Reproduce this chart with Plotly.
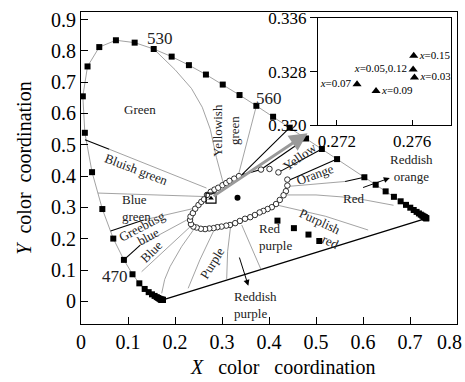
import plotly.graph_objects as go

# ---------------- data ----------------
# CIE 1931 spectral locus (5 nm steps, 590 nm absent in the figure)
locus_x = [0.1741, 0.1740, 0.1738, 0.1736, 0.1733, 0.1730, 0.1726, 0.1721, 0.1714, 0.1703,
           0.1689, 0.1669, 0.1644, 0.1611, 0.1566, 0.1510, 0.1440, 0.1355, 0.1241, 0.1096,
           0.0913, 0.0687, 0.0454, 0.0235, 0.0082, 0.0039, 0.0139, 0.0389, 0.0743, 0.1142,
           0.1547, 0.1929, 0.2296, 0.2658, 0.3016, 0.3373, 0.3731, 0.4087, 0.4441, 0.4788,
           0.5125, 0.5448, 0.6029, 0.6270, 0.6482, 0.6658, 0.6801, 0.6915, 0.7006, 0.7079,
           0.7140, 0.7190, 0.7230, 0.7260, 0.7283, 0.7300, 0.7311, 0.7320, 0.7334, 0.7344, 0.7347]
locus_y = [0.0050, 0.0050, 0.0049, 0.0049, 0.0048, 0.0048, 0.0048, 0.0048, 0.0051, 0.0058,
           0.0069, 0.0086, 0.0109, 0.0138, 0.0177, 0.0227, 0.0297, 0.0399, 0.0578, 0.0868,
           0.1327, 0.2007, 0.2950, 0.4127, 0.5384, 0.6548, 0.7502, 0.8120, 0.8338, 0.8262,
           0.8059, 0.7816, 0.7543, 0.7243, 0.6923, 0.6589, 0.6245, 0.5896, 0.5547, 0.5202,
           0.4866, 0.4544, 0.3965, 0.3725, 0.3514, 0.3340, 0.3197, 0.3083, 0.2993, 0.2920,
           0.2859, 0.2809, 0.2770, 0.2740, 0.2717, 0.2700, 0.2689, 0.2680, 0.2666, 0.2656, 0.2653]

# purple line (ends of the locus)
purple_x = [0.1741, 0.7347]
purple_y = [0.0050, 0.2653]

# hollow circles around the white region
ell_x = [0.268, 0.276, 0.284, 0.292, 0.301, 0.309, 0.316, 0.326, 0.336, 0.383, 0.401, 0.420,
         0.439, 0.439, 0.436, 0.431, 0.423, 0.415, 0.406, 0.397, 0.388, 0.380, 0.370, 0.360,
         0.349, 0.338, 0.328, 0.317, 0.309, 0.299, 0.290, 0.282, 0.273, 0.264, 0.255, 0.246,
         0.239, 0.234, 0.232, 0.233, 0.238, 0.243, 0.250, 0.256, 0.262]
ell_y = [0.340, 0.350, 0.357, 0.363, 0.371, 0.378, 0.385, 0.392, 0.400, 0.421, 0.423, 0.412,
         0.389, 0.370, 0.352, 0.339, 0.324, 0.311, 0.301, 0.295, 0.289, 0.284, 0.276, 0.269,
         0.264, 0.257, 0.250, 0.244, 0.242, 0.239, 0.237, 0.234, 0.233, 0.231, 0.232, 0.236,
         0.239, 0.247, 0.260, 0.271, 0.282, 0.296, 0.308, 0.318, 0.326]

# extra filled squares in the red-purple region
rp_x = [0.418, 0.453, 0.484, 0.507]
rp_y = [0.258, 0.234, 0.2135, 0.193]

# white point and sample point
white_x, white_y = [0.333], [0.331]
sample_x, sample_y = [0.2766], [0.3297]

# thin grey hue-boundary lines
gray_lines = [
    ([0.1547, 0.200, 0.235, 0.258, 0.275, 0.288, 0.303], [0.806, 0.740, 0.680, 0.620, 0.550, 0.460, 0.376]),
    ([0.3731, 0.335], [0.6245, 0.404]),
    ([0.060, 0.267], [0.486, 0.362]),
    ([0.036, 0.260], [0.346, 0.335]),
    ([0.133, 0.243], [0.260, 0.298]),
    ([0.126, 0.225], [0.180, 0.260]),
    ([0.129, 0.232], [0.095, 0.238]),
    ([0.1717, 0.178, 0.1894, 0.214, 0.239], [0.026, 0.070, 0.111, 0.175, 0.228]),
    ([0.228, 0.253, 0.2815], [0.042, 0.133, 0.223]),
    ([0.310, 0.312, 0.318], [0.072, 0.160, 0.236]),
    ([0.383, 0.360, 0.342], [0.102, 0.180, 0.244]),
    ([0.416, 0.520, 0.611], [0.308, 0.272, 0.228]),
    ([0.438, 0.500, 0.579, 0.665], [0.340, 0.340, 0.331, 0.307]),
    ([0.439, 0.562], [0.367, 0.383]),
]
# black boundary lines
black_lines = [
    ([0.0085, 0.060], [0.516, 0.486]),
    ([0.063, 0.133], [0.225, 0.260]),
    ([0.0913, 0.126], [0.1327, 0.180]),
    ([0.562, 0.6029], [0.383, 0.3965]),
    ([0.383, 0.342, 0.4441], [0.421, 0.404, 0.5547]),
    ([0.383, 0.4788], [0.421, 0.5202]),
    ([0.420, 0.5125], [0.412, 0.4866]),
    ([0.4377, 0.5448], [0.384, 0.4544]),
]

# arrows: (tail x, tail y, head x, head y)
gray_arrow = (0.279, 0.333, 0.482, 0.537)
orange_arrow = (0.597, 0.362, 0.657, 0.394)
rpurple_arrow = (0.336, 0.145, 0.356, 0.050)

# region labels: text, x, y, angle, size, xanchor
labels = [
    ("Green", 0.1255, 0.612, 0, 13, "center"),
    ("Yellowish<br>green", 0.3085, 0.545, -90, 13, "center"),
    ("Bluish green", 0.118, 0.420, 21, 13, "center"),
    ("Blue<br>green", 0.082, 0.299, 0, 13, "left"),
    ("Greebusg", 0.129, 0.239, -28, 13, "center"),
    ("blue", 0.143, 0.207, -28, 13, "center"),
    ("Blue", 0.150, 0.159, -45, 13, "center"),
    ("470", 0.0723, 0.079, 0, 17, "center"),
    ("530", 0.168, 0.838, 0, 17, "center"),
    ("560", 0.4007, 0.649, 0, 17, "center"),
    ("Purple", 0.278, 0.122, -58, 13, "center"),
    ("Red<br>purple", 0.3755, 0.207, 0, 13, "left"),
    ("Reddish<br>purple", 0.3206, -0.011, 0, 13, "left"),
    ("Yellow", 0.466, 0.463, -36, 13, "center"),
    ("Orange", 0.498, 0.404, -20, 13, "center"),
    ("Red", 0.579, 0.330, 0, 13, "center"),
    ("Purplish", 0.509, 0.255, 25, 13, "center"),
    ("red", 0.530, 0.191, 25, 13, "center"),
    ("Reddish<br>orange", 0.704, 0.4265, 0, 13, "center"),
]

# inset data
ins_x = [0.27608, 0.27605, 0.27612, 0.27307, 0.27408]
ins_y = [0.33036, 0.32833, 0.32713, 0.32613, 0.32509]
ins_lab = ["<i>x</i>=0.15", "<i>x</i>=0.05,0.12", "<i>x</i>=0.03", "<i>x</i>=0.07", "<i>x</i>=0.09"]
ins_pos = ["middle right", "middle left", "middle right", "middle left", "middle right"]

# main axis ticks (the last x label is drawn right-aligned at the frame edge)
x_ticks = [0, 0.1, 0.2, 0.3, 0.4, 0.5, 0.6, 0.7, 0.8]
x_tick_text = ["0", "0.1", "0.2", "0.3", "0.4", "0.5", "0.6", "0.7", ""]
x_last_label = "0.8"
y_ticks = [0, 0.1, 0.2, 0.3, 0.4, 0.5, 0.6, 0.7, 0.8, 0.9]
y_tick_text = ["0", "0.1", "0.2", "0.3", "0.4", "0.5", "0.6", "0.7", "0.8", "0.9"]
ins_xticks = [0.272, 0.276]
ins_yticks = [0.320, 0.328, 0.336]

FONT = "Liberation Serif"
NB = "\u00a0"

fig = go.Figure()

fig.add_trace(go.Scatter(x=locus_x, y=locus_y, mode="lines",
                         line=dict(color="#8a8a8a", width=0.8), hoverinfo="skip"))
fig.add_trace(go.Scatter(x=purple_x, y=purple_y, mode="lines",
                         line=dict(color="black", width=1.4), hoverinfo="skip"))
for xs, ys in gray_lines:
    fig.add_trace(go.Scatter(x=xs, y=ys, mode="lines",
                             line=dict(color="#8c8c8c", width=0.8), hoverinfo="skip"))
for xs, ys in black_lines:
    fig.add_trace(go.Scatter(x=xs, y=ys, mode="lines",
                             line=dict(color="black", width=1.1), hoverinfo="skip"))

fig.add_trace(go.Scatter(x=locus_x, y=locus_y, mode="markers",
                         marker=dict(symbol="square", size=6, color="black"), hoverinfo="skip"))
fig.add_trace(go.Scatter(x=rp_x, y=rp_y, mode="markers",
                         marker=dict(symbol="square", size=6, color="black"), hoverinfo="skip"))
fig.add_trace(go.Scatter(x=ell_x, y=ell_y, mode="markers",
                         marker=dict(symbol="circle", size=5.5, color="white",
                                     line=dict(color="black", width=0.8)), hoverinfo="skip"))
fig.add_trace(go.Scatter(x=white_x, y=white_y, mode="markers",
                         marker=dict(symbol="circle", size=6, color="black"), hoverinfo="skip"))
fig.add_trace(go.Scatter(x=sample_x, y=sample_y, mode="markers",
                         marker=dict(symbol="square-open", size=10, color="black",
                                     line=dict(width=1.2)), hoverinfo="skip"))
fig.add_trace(go.Scatter(x=sample_x, y=sample_y, mode="markers",
                         marker=dict(symbol="triangle-up", size=5, color="black"), hoverinfo="skip"))

fig.add_trace(go.Scatter(x=ins_x, y=ins_y, mode="markers+text", xaxis="x2", yaxis="y2",
                         text=ins_lab, textposition=ins_pos,
                         textfont=dict(family=FONT, size=11, color="black"),
                         marker=dict(symbol="triangle-up", size=8, color="black"), hoverinfo="skip"))

annotations = []
for t, x, y, ang, sz, xa in labels:
    annotations.append(dict(x=x, y=y, xref="x", yref="y", text=t, showarrow=False,
                            textangle=ang, xanchor=xa, align=xa,
                            font=dict(family=FONT, size=sz, color="#222")))
for (tx, ty, hx, hy), col, w, hs in [(gray_arrow, "#9a9a9a", 3, 1.2),
                                     (orange_arrow, "black", 1, 1.2),
                                     (rpurple_arrow, "black", 1, 1.2)]:
    annotations.append(dict(x=hx, y=hy, ax=tx, ay=ty, xref="x", yref="y", axref="x", ayref="y",
                            text="", showarrow=True, arrowhead=2, arrowsize=hs,
                            arrowwidth=w, arrowcolor=col))
# last x tick label, kept inside the page
annotations.append(dict(x=x_ticks[-1], y=0, xref="x", yref="paper", text=x_last_label,
                        showarrow=False, xanchor="right", yanchor="top", xshift=7, yshift=-5,
                        font=dict(family=FONT, size=20, color="black")))
# x axis title
annotations.append(dict(x=0.537, y=0, xref="paper", yref="paper",
                        text="<i>X</i>" + NB * 3 + "color" + NB * 3 + "coordination",
                        showarrow=False, xanchor="center", yanchor="top", yshift=-30,
                        font=dict(family=FONT, size=20, color="black")))

common = dict(showline=True, mirror=True, linecolor="black", linewidth=1,
              showgrid=False, zeroline=False, tickcolor="black", automargin=False,
              ticklabeloverflow="allow")

fig.update_layout(
    width=465, height=382,
    margin=dict(l=81, r=8, t=12, b=58),
    paper_bgcolor="white", plot_bgcolor="white",
    showlegend=False,
    font=dict(family=FONT, color="black"),
    annotations=annotations,
    xaxis=dict(range=[0, 0.8], tickvals=x_ticks, ticktext=x_tick_text,
               ticks="inside", ticklen=7, tickfont=dict(size=20), **common),
    yaxis=dict(range=[-0.072, 0.924], tickvals=y_ticks, ticktext=y_tick_text,
               ticks="inside", ticklen=7, tickfont=dict(size=20),
               title=dict(text="<i>Y</i>" + NB * 2 + "color" + NB * 2 + "coordination",
                          font=dict(size=20), standoff=14), **common),
    xaxis2=dict(domain=[0.630, 0.983], anchor="y2", range=[0.27099, 0.27804],
                tickvals=ins_xticks, ticktext=["0.272", "0.276"],
                ticks="inside", ticklen=5, tickfont=dict(size=17), **common),
    yaxis2=dict(domain=[0.637, 0.981], anchor="x2", range=[0.320, 0.336],
                tickvals=ins_yticks, ticktext=["0.320", "0.328", "0.336"],
                ticks="outside", ticklen=7, tickfont=dict(size=17), **common),
)

fig.write_html("out.html")
